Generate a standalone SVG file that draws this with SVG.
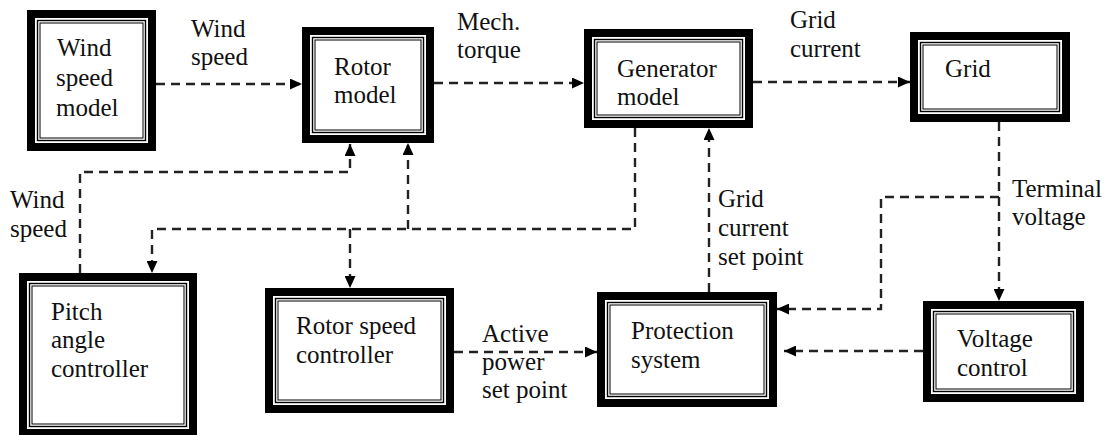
<svg xmlns="http://www.w3.org/2000/svg" width="1112" height="435" viewBox="0 0 1112 435">
<style>
.o{fill:#fff;stroke:#000;stroke-width:8}
.i1{fill:none;stroke:#000;stroke-width:1.4}
.i2{fill:none;stroke:#000;stroke-width:1}
text{font-family:'Liberation Serif',Tinos,'Times New Roman',Times,'Noto Serif','DejaVu Serif',FreeSerif,serif;font-size:25px;fill:#111}
.c{fill:none;stroke:#222;stroke-width:2.4;stroke-dasharray:9 6;marker-end:url(#ah)}
</style>
<defs>
<marker id="ah" markerWidth="13" markerHeight="11" refX="12" refY="5.5" orient="auto" markerUnits="userSpaceOnUse">
<path d="M0,0 L12,5.5 L0,11 z" fill="#000"/>
</marker>
</defs>
<rect width="1112" height="435" fill="#fff"/>

<g id="connectors">
<path class="c" d="M156 84 H302"/>
<path class="c" d="M434 83 H584"/>
<path class="c" d="M753 82 H910"/>
<path class="c" d="M999 122 V301"/>
<path class="c" d="M999 197 H881 V309 H777"/>
<path class="c" d="M923 351 H784"/>
<path class="c" d="M454 352 H597"/>
<path class="c" d="M709 292 V128"/>
<path class="c" d="M635 128 V229 H152 V273"/>
<path class="c" d="M350 229 V288"/>
<path class="c" d="M408 229 V143"/>
<path class="c" d="M80 273 V172 H350 V144"/>
<g>
<text x="191" y="37">Wind</text><text x="191" y="65">speed</text>
<text x="457" y="30">Mech.</text><text x="457" y="58">torque</text>
<text x="790" y="28">Grid</text><text x="790" y="57">current</text>
<text x="1012" y="197">Terminal</text><text x="1012" y="225">voltage</text>
<text x="10" y="208">Wind</text><text x="10" y="237">speed</text>
<text x="718" y="207">Grid</text><text x="718" y="236">current</text><text x="718" y="265">set point</text>
<text x="482" y="342">Active</text><text x="482" y="370">power</text><text x="482" y="398">set point</text>
</g>
</g>

<g id="wind-speed-model">
<rect class="o" x="31" y="14" width="121" height="133"/>
<rect class="i1" x="37.5" y="20.5" width="108" height="120"/>
<rect class="i2" x="40" y="23" width="103" height="115"/>
<text x="57" y="56">Wind</text><text x="56" y="86">speed</text><text x="56" y="116">model</text>
</g>

<g id="rotor-model">
<rect class="o" x="306" y="31" width="124" height="108"/>
<rect class="i1" x="312.5" y="37.5" width="111" height="95"/>
<rect class="i2" x="315" y="40" width="106" height="90"/>
<text x="334" y="75">Rotor</text><text x="334" y="103">model</text>
</g>

<g id="generator-model">
<rect class="o" x="588" y="33" width="161" height="91"/>
<rect class="i1" x="594.5" y="39.5" width="148" height="78"/>
<rect class="i2" x="597" y="42" width="143" height="73"/>
<text x="617" y="77">Generator</text><text x="617" y="105">model</text>
</g>

<g id="grid">
<rect class="o" x="914" y="36" width="152" height="82"/>
<rect class="i1" x="920.5" y="42.5" width="139" height="69"/>
<rect class="i2" x="923" y="45" width="134" height="64"/>
<text x="945" y="77">Grid</text>
</g>

<g id="pitch-angle-controller">
<rect class="o" x="23" y="277" width="170" height="156"/>
<rect class="i1" x="29.5" y="283.5" width="157" height="143"/>
<rect class="i2" x="32" y="286" width="152" height="138"/>
<text x="51" y="320">Pitch</text><text x="51" y="348">angle</text><text x="51" y="377">controller</text>
</g>

<g id="rotor-speed-controller">
<rect class="o" x="269" y="292" width="181" height="117"/>
<rect class="i1" x="275.5" y="298.5" width="168" height="104"/>
<rect class="i2" x="278" y="301" width="163" height="99"/>
<text x="296" y="334">Rotor speed</text><text x="296" y="363">controller</text>
</g>

<g id="protection-system">
<rect class="o" x="601" y="296" width="172" height="107"/>
<rect class="i1" x="607.5" y="302.5" width="159" height="94"/>
<rect class="i2" x="610" y="305" width="154" height="89"/>
<text x="631" y="339">Protection</text><text x="631" y="368">system</text>
</g>

<g id="voltage-control">
<rect class="o" x="927" y="305" width="153" height="93"/>
<rect class="i1" x="933.5" y="311.5" width="140" height="80"/>
<rect class="i2" x="936" y="314" width="135" height="75"/>
<text x="957" y="347">Voltage</text><text x="957" y="376">control</text>
</g>
</svg>
